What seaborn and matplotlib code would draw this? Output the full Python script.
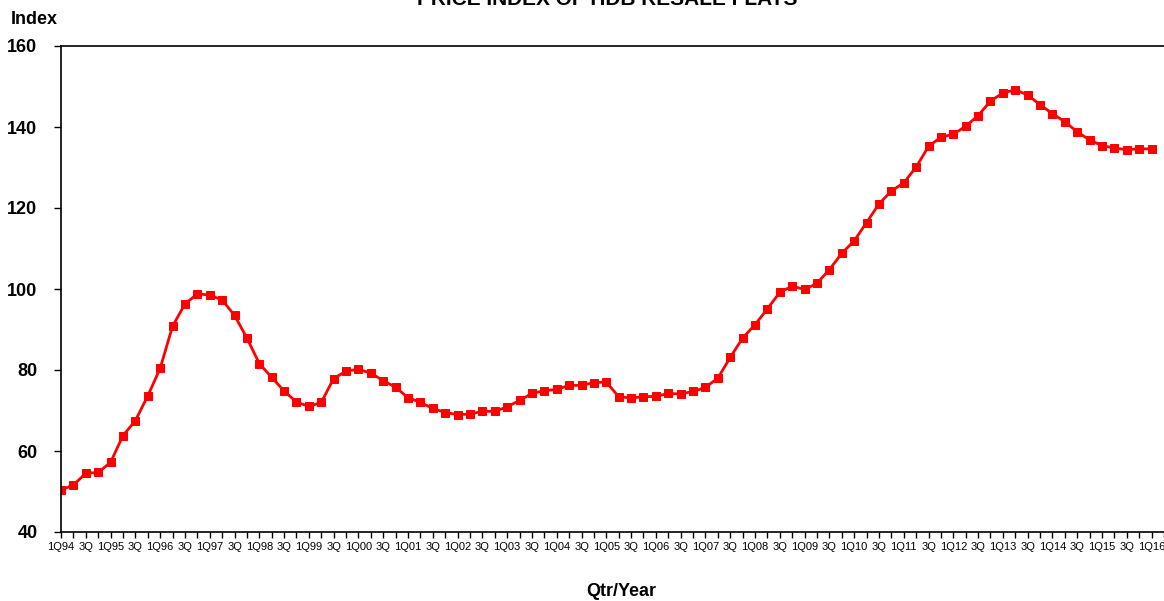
import numpy as np
import pandas as pd
import matplotlib
matplotlib.use("Agg")
import matplotlib.pyplot as plt
import seaborn as sns

# quarterly price index, 1Q94 .. 1Q16
price_index = [
    50.4, 51.6, 54.5, 54.7, 57.2, 63.8, 67.5, 73.6,
    80.4, 90.8, 96.3, 98.8, 98.5, 97.3, 93.5, 87.9,
    81.6, 78.2, 74.8, 72.1, 71.0, 72.0, 77.9, 79.7,
    80.2, 79.2, 77.4, 75.7, 73.2, 72.0, 70.5, 69.5,
    69.0, 69.1, 69.8, 69.8, 70.9, 72.5, 74.2, 74.9,
    75.2, 76.2, 76.2, 76.9, 77.0, 73.4, 73.1, 73.4,
    73.5, 74.2, 74.1, 74.7, 75.7, 78.0, 83.1, 87.9,
    91.2, 95.1, 99.2, 100.7, 99.9, 101.4, 104.8, 108.8,
    111.9, 116.4, 121.0, 124.2, 126.2, 130.1, 135.2, 137.5,
    138.2, 140.2, 142.8, 146.4, 148.4, 149.2, 147.9, 145.5,
    143.3, 141.3, 138.8, 136.8, 135.4, 134.8, 134.4, 134.6,
    134.6,
]

# labels shown every second quarter
tick_labels = [
    "1Q94", "3Q", "1Q95", "3Q", "1Q96", "3Q", "1Q97", "3Q", "1Q98", "3Q",
    "1Q99", "3Q", "1Q00", "3Q", "1Q01", "3Q", "1Q02", "3Q", "1Q03", "3Q",
    "1Q04", "3Q", "1Q05", "3Q", "1Q06", "3Q", "1Q07", "3Q", "1Q08", "3Q",
    "1Q09", "3Q", "1Q10", "3Q", "1Q11", "3Q", "1Q12", "3Q", "1Q13", "3Q",
    "1Q14", "3Q", "1Q15", "3Q", "1Q16",
]

df = pd.DataFrame({"qtr": np.arange(len(price_index)), "index": price_index})

sns.set_style("ticks")
plt.rcParams["font.family"] = ["Liberation Sans", "DejaVu Sans"]
plt.rcParams["text.color"] = "black"
plt.rcParams["xtick.color"] = "black"
plt.rcParams["ytick.color"] = "black"
plt.rcParams["xtick.labelcolor"] = "black"
plt.rcParams["ytick.labelcolor"] = "black"

fig = plt.figure(figsize=(11.64, 6.01), dpi=100)
ax = fig.add_axes([61 / 1164, 69 / 601, 1103 / 1164, 486 / 601])

sns.lineplot(data=df, x="qtr", y="index", ax=ax, color="#ff0000",
             linewidth=2.0, marker="s", markersize=5.5,
             markeredgecolor="#ff0000")

ax.set_xlim(0, 89)
ax.set_ylim(40, 160)
ax.set_yticks(range(40, 161, 20))

# tick at every quarter, label every second one
ax.set_xticks(range(0, 90))
labels = [""] * 90
for i, lab in enumerate(tick_labels):
    labels[i * 2] = lab
ax.set_xticklabels(labels, fontsize=8)
ax.tick_params(axis="x", length=4, width=1, pad=3, colors="black")
ax.tick_params(axis="y", length=5, width=1, pad=12, labelsize=13, colors="black")
for lab in ax.get_yticklabels():
    lab.set_fontweight("bold")

for side in ["left", "bottom", "top"]:
    ax.spines[side].set_color("black")
    ax.spines[side].set_linewidth(1.2)
ax.spines["right"].set_visible(False)

ax.set_xlabel("")
ax.set_ylabel("")

fig.text(11 / 1164, 1 - 19 / 601, "Index", fontsize=13, fontweight="bold",
         ha="left", va="center", color="black")
fig.text(621 / 1164, 1 - 592 / 601, "Qtr/Year", fontsize=13, fontweight="bold",
         ha="center", va="center", color="black")
# title sits at the very top edge, as in the source chart
fig.text(607 / 1164, 1 - 5 / 601, "PRICE INDEX OF HDB RESALE FLATS",
         fontsize=15, fontweight="bold", ha="center", va="baseline", color="black")

fig.savefig("out.png", dpi=100)
